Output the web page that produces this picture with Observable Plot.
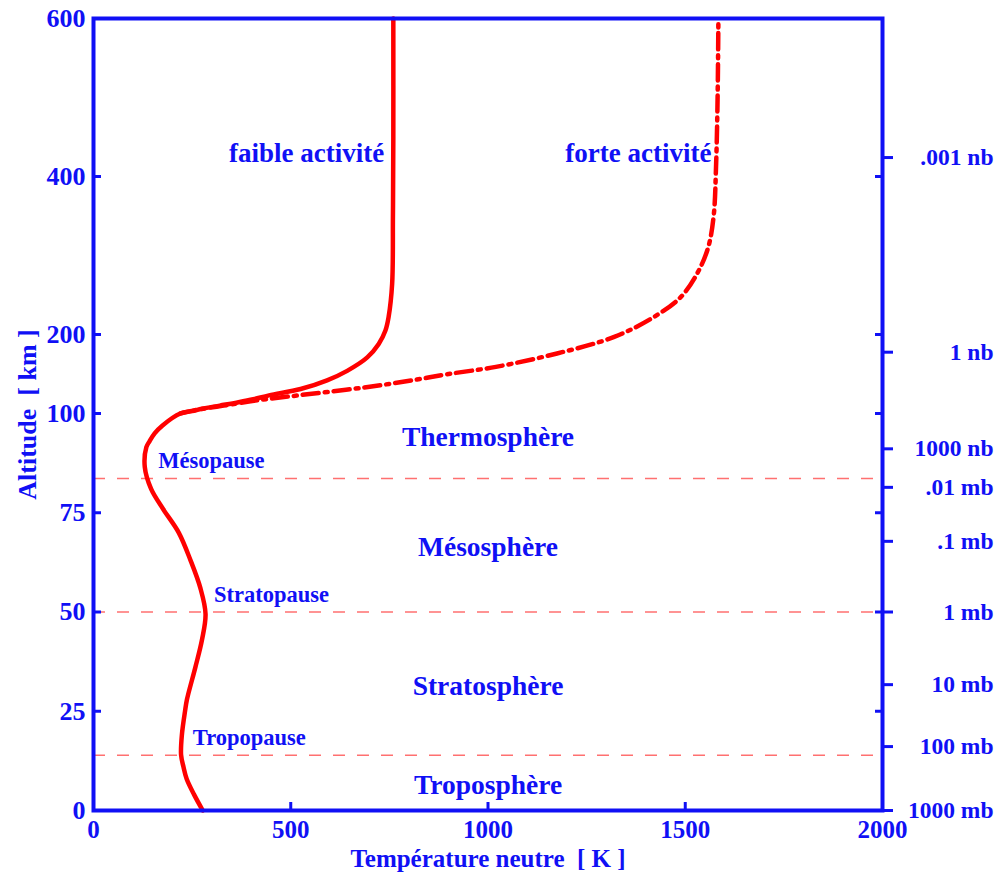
<!DOCTYPE html>
<html>
<head>
<meta charset="utf-8">
<script src="https://cdn.jsdelivr.net/npm/d3@7"></script>
<script src="https://cdn.jsdelivr.net/npm/@observablehq/plot@0.6"></script>
<style>
  html, body { margin: 0; padding: 0; background: #fff; }
</style>
</head>
<body>
<div id="chart"></div>
<script>
// Neutral temperature profile of the atmosphere (K) versus altitude (km)
const lowAlt  = [0, 4, 8, 11, 14, 19, 25, 28, 36, 43, 49.5, 56, 63, 70, 76, 81, 86.5, 91.5, 93, 95, 97, 100, 103, 106, 110, 114, 118, 123, 131, 142, 154, 171, 188, 205, 222, 264, 350, 450, 600];
const lowTemp = [277, 255, 236, 228, 222, 224, 232, 237, 258, 275, 284, 271, 246, 216, 176, 146, 130, 134, 142, 155, 175, 220, 250, 275, 320, 365, 405, 445, 525, 592, 643, 694, 723, 740, 748, 757, 759, 760, 760];

const highAlt  = [100, 104, 110, 117, 123, 130, 136, 143, 150, 159, 176, 197, 222, 247, 277, 310, 350, 412, 500, 600];
const highTemp = [220, 255, 330, 420, 520, 640, 730, 820, 900, 1020, 1175, 1320, 1420, 1488, 1530, 1558, 1572, 1578, 1582, 1584];

// Layer boundaries (tropopause, stratopause, mesopause)
const boundaries = [13.9, 50, 83.6];

// Axis ticks
const altTicks  = [0, 25, 50, 75, 100, 200, 400, 600];
const tempTicks = [0, 500, 1000, 1500, 2000];

// Pressure scale on the right (altitude of each pressure level)
const pressureAlt    = [0, 16.1, 31.7, 50, 67.8, 81.4, 91.1, 177.6, 424];
const pressureLabels = ["1000 mb", "100 mb", "10 mb", "1 mb", ".1 mb", ".01 mb", "1000 nb", "1 nb", ".001 nb"];

// Layer names and annotations
const layerNames = ["Thermosphère", "Mésosphère", "Stratosphère", "Troposphère"];
const layerAlt   = [94, 66.2, 31.2, 6.5];
const pauseNames = ["Mésopause", "Stratopause", "Tropopause"];
const pauseAlt   = [88.2, 54.4, 18.4];
const pauseTemp  = [299, 451, 395];
const activityNames = ["faible activité", "forte activité"];
const activityTemp  = [540, 1381];
const activityAlt   = [429, 429];

const low  = lowAlt.map((a, i) => ({alt: a, temp: lowTemp[i]}));
const high = highAlt.map((a, i) => ({alt: a, temp: highTemp[i]}));
const layers = layerNames.map((n, i) => ({name: n, alt: layerAlt[i], temp: 1000}));
const pauses = pauseNames.map((n, i) => ({name: n, alt: pauseAlt[i], temp: pauseTemp[i]}));
const activity = activityNames.map((n, i) => ({name: n, alt: activityAlt[i], temp: activityTemp[i]}));
const pressure = pressureAlt.map((a, i) => ({alt: a, label: pressureLabels[i]}));

const blue = "#1010f5";
const red = "#ff0000";
const noLabel = () => "";

const chart = Plot.plot({
  width: 1000,
  height: 879,
  marginLeft: 93,
  marginRight: 118,
  marginTop: 18,
  marginBottom: 69,
  style: {fontFamily: "'Liberation Serif', serif", fontWeight: "bold", fontSize: "26px", color: blue, background: "#fff"},
  x: {type: "linear", domain: [0, 2000]},
  // Piecewise altitude scale: 0–100 km stretched, 100–600 km compressed
  y: {type: "linear", domain: [0, 100, 600], range: [810, 413, 18]},
  marks: [
    // layer boundaries
    Plot.ruleY(boundaries, {stroke: "#ff7070", strokeWidth: 1.5, strokeDasharray: "12,12"}),
    // temperature profiles
    Plot.line(low, {x: "temp", y: "alt", stroke: red, strokeWidth: 4.5, curve: "catmull-rom"}),
    Plot.line(high, {x: "temp", y: "alt", stroke: red, strokeWidth: 4.5, strokeDasharray: "16,6,3,6", curve: "catmull-rom"}),
    // frame
    Plot.frame({stroke: blue, strokeWidth: 4}),
    // left altitude axis: labels + inward ticks
    Plot.axisY({ticks: altTicks, tickSize: 0, tickPadding: 8, label: null, fontSize: 26, tickFormat: d => String(d)}),
    Plot.axisY({ticks: altTicks, tickSize: 8, dx: 8, strokeWidth: 3, tickFormat: noLabel, label: null}),
    // right side: inward altitude ticks and outward pressure ticks
    Plot.axisY({anchor: "right", ticks: altTicks, tickSize: 8, dx: -8, strokeWidth: 3, tickFormat: noLabel, label: null}),
    Plot.axisY({anchor: "right", ticks: pressureAlt, tickSize: 10, strokeWidth: 3, tickFormat: noLabel, label: null}),
    Plot.text(pressure, {y: "alt", text: "label", frameAnchor: "right", dx: 111, textAnchor: "end", fill: blue, fontSize: 23.5, fontWeight: "bold"}),
    // bottom temperature axis: labels + inward ticks
    Plot.axisX({ticks: tempTicks, tickSize: 0, tickPadding: 10, label: null, fontSize: 25, tickFormat: d => String(d)}),
    Plot.axisX({ticks: tempTicks.slice(1), tickSize: 8, dy: -8, strokeWidth: 3, tickFormat: noLabel, label: null}),
    // axis titles
    Plot.text(["Altitude  [ km ]"], {frameAnchor: "left", textAnchor: "middle", rotate: -90, dx: -66, fill: blue, fontSize: 26, fontWeight: "bold"}),
    Plot.text(["Température neutre  [ K ]"], {frameAnchor: "bottom", dy: 56, fill: blue, fontSize: 25, fontWeight: "bold"}),
    // annotations
    Plot.text(layers, {x: "temp", y: "alt", text: "name", fill: blue, fontSize: 27.5, fontWeight: "bold"}),
    Plot.text(pauses, {x: "temp", y: "alt", text: "name", fill: blue, fontSize: 22.5, fontWeight: "bold"}),
    Plot.text(activity, {x: "temp", y: "alt", text: "name", fill: blue, fontSize: 27, fontWeight: "bold"})
  ]
});

document.getElementById("chart").appendChild(chart);
</script>
</body>
</html>
